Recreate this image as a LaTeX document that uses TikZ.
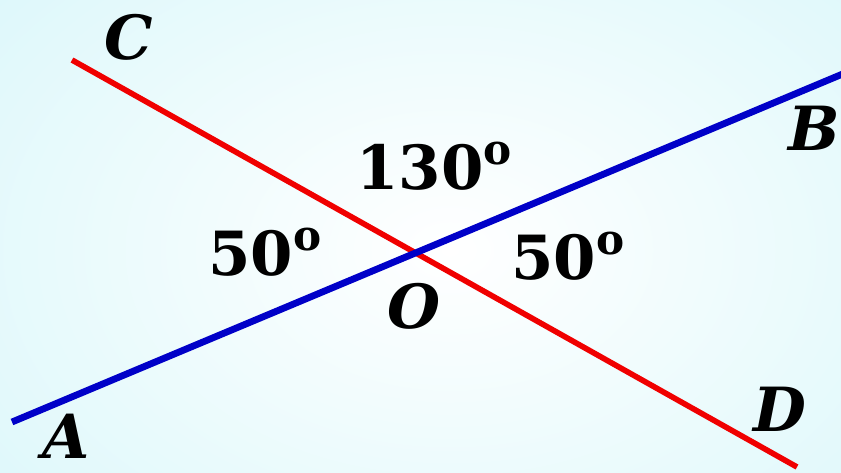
\documentclass[tikz,border=0pt]{standalone}
\usepackage{fontspec}
\setmainfont{DejaVu Serif}
\begin{document}
\begin{tikzpicture}[x=0.03cm,y=-0.03cm,
  lbl/.style={font=\fontsize{52}{56}\selectfont\bfseries\itshape,inner sep=0pt},
  ang/.style={font=\fontsize{52}{56}\selectfont\bfseries,inner sep=0pt},
  blueline/.style={draw={rgb,255:red,0;green,0;blue,200},line width=5.8pt},
  redline/.style={draw={rgb,255:red,240;green,0;blue,0},line width=4.8pt}]
\definecolor{bgc}{RGB}{218,247,250}
\useasboundingbox (0,0) rectangle (841,472);
\shade[inner color=white,outer color=bgc] (-200,-200) rectangle (1100,700);
\clip (0,0) rectangle (841,472);
\coordinate (a) at (12,422);
\coordinate (b) at (845,73);
\coordinate (c) at (72,60);
\coordinate (d) at (797,467);
\draw[redline] (c) -- (d);
\draw[blueline] (a) -- (b);
\node[lbl] (lC) at (129,37) {C};
\node[lbl,anchor=east] (lB) at (840,128) {B};
\node[lbl] (lA) at (66,436) {A};
\node[lbl] (lD) at (780,409) {D};
\node[lbl] (lO) at (414,306) {O};
\newcommand{\dg}{\raisebox{0.42em}{\fontsize{36}{38}\selectfont o}}
\node[ang] (t1) at (434,166) {130\dg};
\node[ang] (t2) at (265,252) {50\dg};
\node[ang] (t3) at (568,256) {50\dg};
\end{tikzpicture}
\end{document}
